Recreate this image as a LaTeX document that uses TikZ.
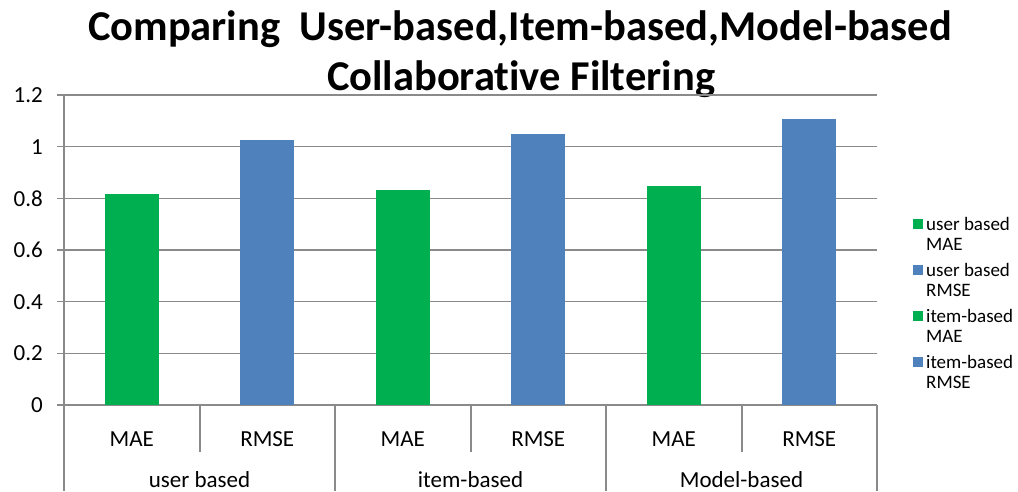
\documentclass[tikz,border=0pt]{standalone}
\usepackage{fontspec}
\setmainfont{Carlito}[Ligatures=NoCommon]
\usetikzlibrary{positioning}
\definecolor{maegreen}{HTML}{00B050}
\definecolor{rmseblue}{HTML}{4F81BD}
\definecolor{gridgray}{HTML}{8A8A8A}
\tikzset{
  gridline/.style={draw=gridgray, line width=1.2pt},
  axislbl/.style={font=\fontsize{23}{23}\selectfont, inner sep=0pt},
  titletxt/.style={font=\fontsize{42.5}{42.5}\selectfont\bfseries, inner sep=0pt, anchor=base},
  legtxt/.style={font=\fontsize{19}{19}\selectfont, inner sep=0pt, anchor=base west}
}

\begin{document}
\begin{tikzpicture}[x=1pt, y=-1pt]
\useasboundingbox (0,0) rectangle (1018,491);

% title
\node[titletxt] (title1) at (520,40) {Comparing\ \ User-based,Item-based,Model-based};
\node[titletxt] (title2) at (521,90) {Collaborative Filtering};

% value axis and grid
\foreach \v [count=\i] in {0,0.2,0.4,0.6,0.8,1,1.2}{
  \draw[gridline] (57,{405-\v*258.33}) -- (877,{405-\v*258.33});
  \node[axislbl, anchor=east] (ylab\i) at (43,{405-\v*258.33}) {\v};
}
\draw[gridline] (64,95) -- (64,491);

% bars
\foreach \val/\col [count=\i from 0] in {0.817/maegreen, 1.026/rmseblue, 0.832/maegreen, 1.048/rmseblue, 0.849/maegreen, 1.106/rmseblue}{
  \fill[\col] ({64+135.5*\i+40.75},405) rectangle ++(54,{-\val*258.33});
}

% category axis
\foreach \lab [count=\i from 0] in {MAE,RMSE,MAE,RMSE,MAE,RMSE}{
  \node[axislbl, anchor=base] (cat\i) at ({64+135.5*\i+67.75},446) {\lab};
}
\foreach \x in {200,471,742}{
  \draw[gridline] (\x,405) -- (\x,452);
}
\foreach \x in {335,606,877}{
  \draw[gridline] (\x,405) -- (\x,491);
}
\foreach \lab [count=\i from 0] in {user based,item-based,Model-based}{
  \node[axislbl, anchor=base] (grp\i) at ({64+271*\i+135.5},487) {\lab};
}

% legend
\foreach \first/\second/\col [count=\i from 0] in {user based/MAE/maegreen, user based/RMSE/rmseblue, item-based/MAE/maegreen, item-based/RMSE/rmseblue}{
  \fill[\col] (913,{219+46*\i}) rectangle ++(10,10);
  \node[legtxt] (leg\i) at (926,{230+46*\i}) {\first};
  \node[legtxt] (leg\i b) at (926,{250+46*\i}) {\second};
}
\end{tikzpicture}
\end{document}
